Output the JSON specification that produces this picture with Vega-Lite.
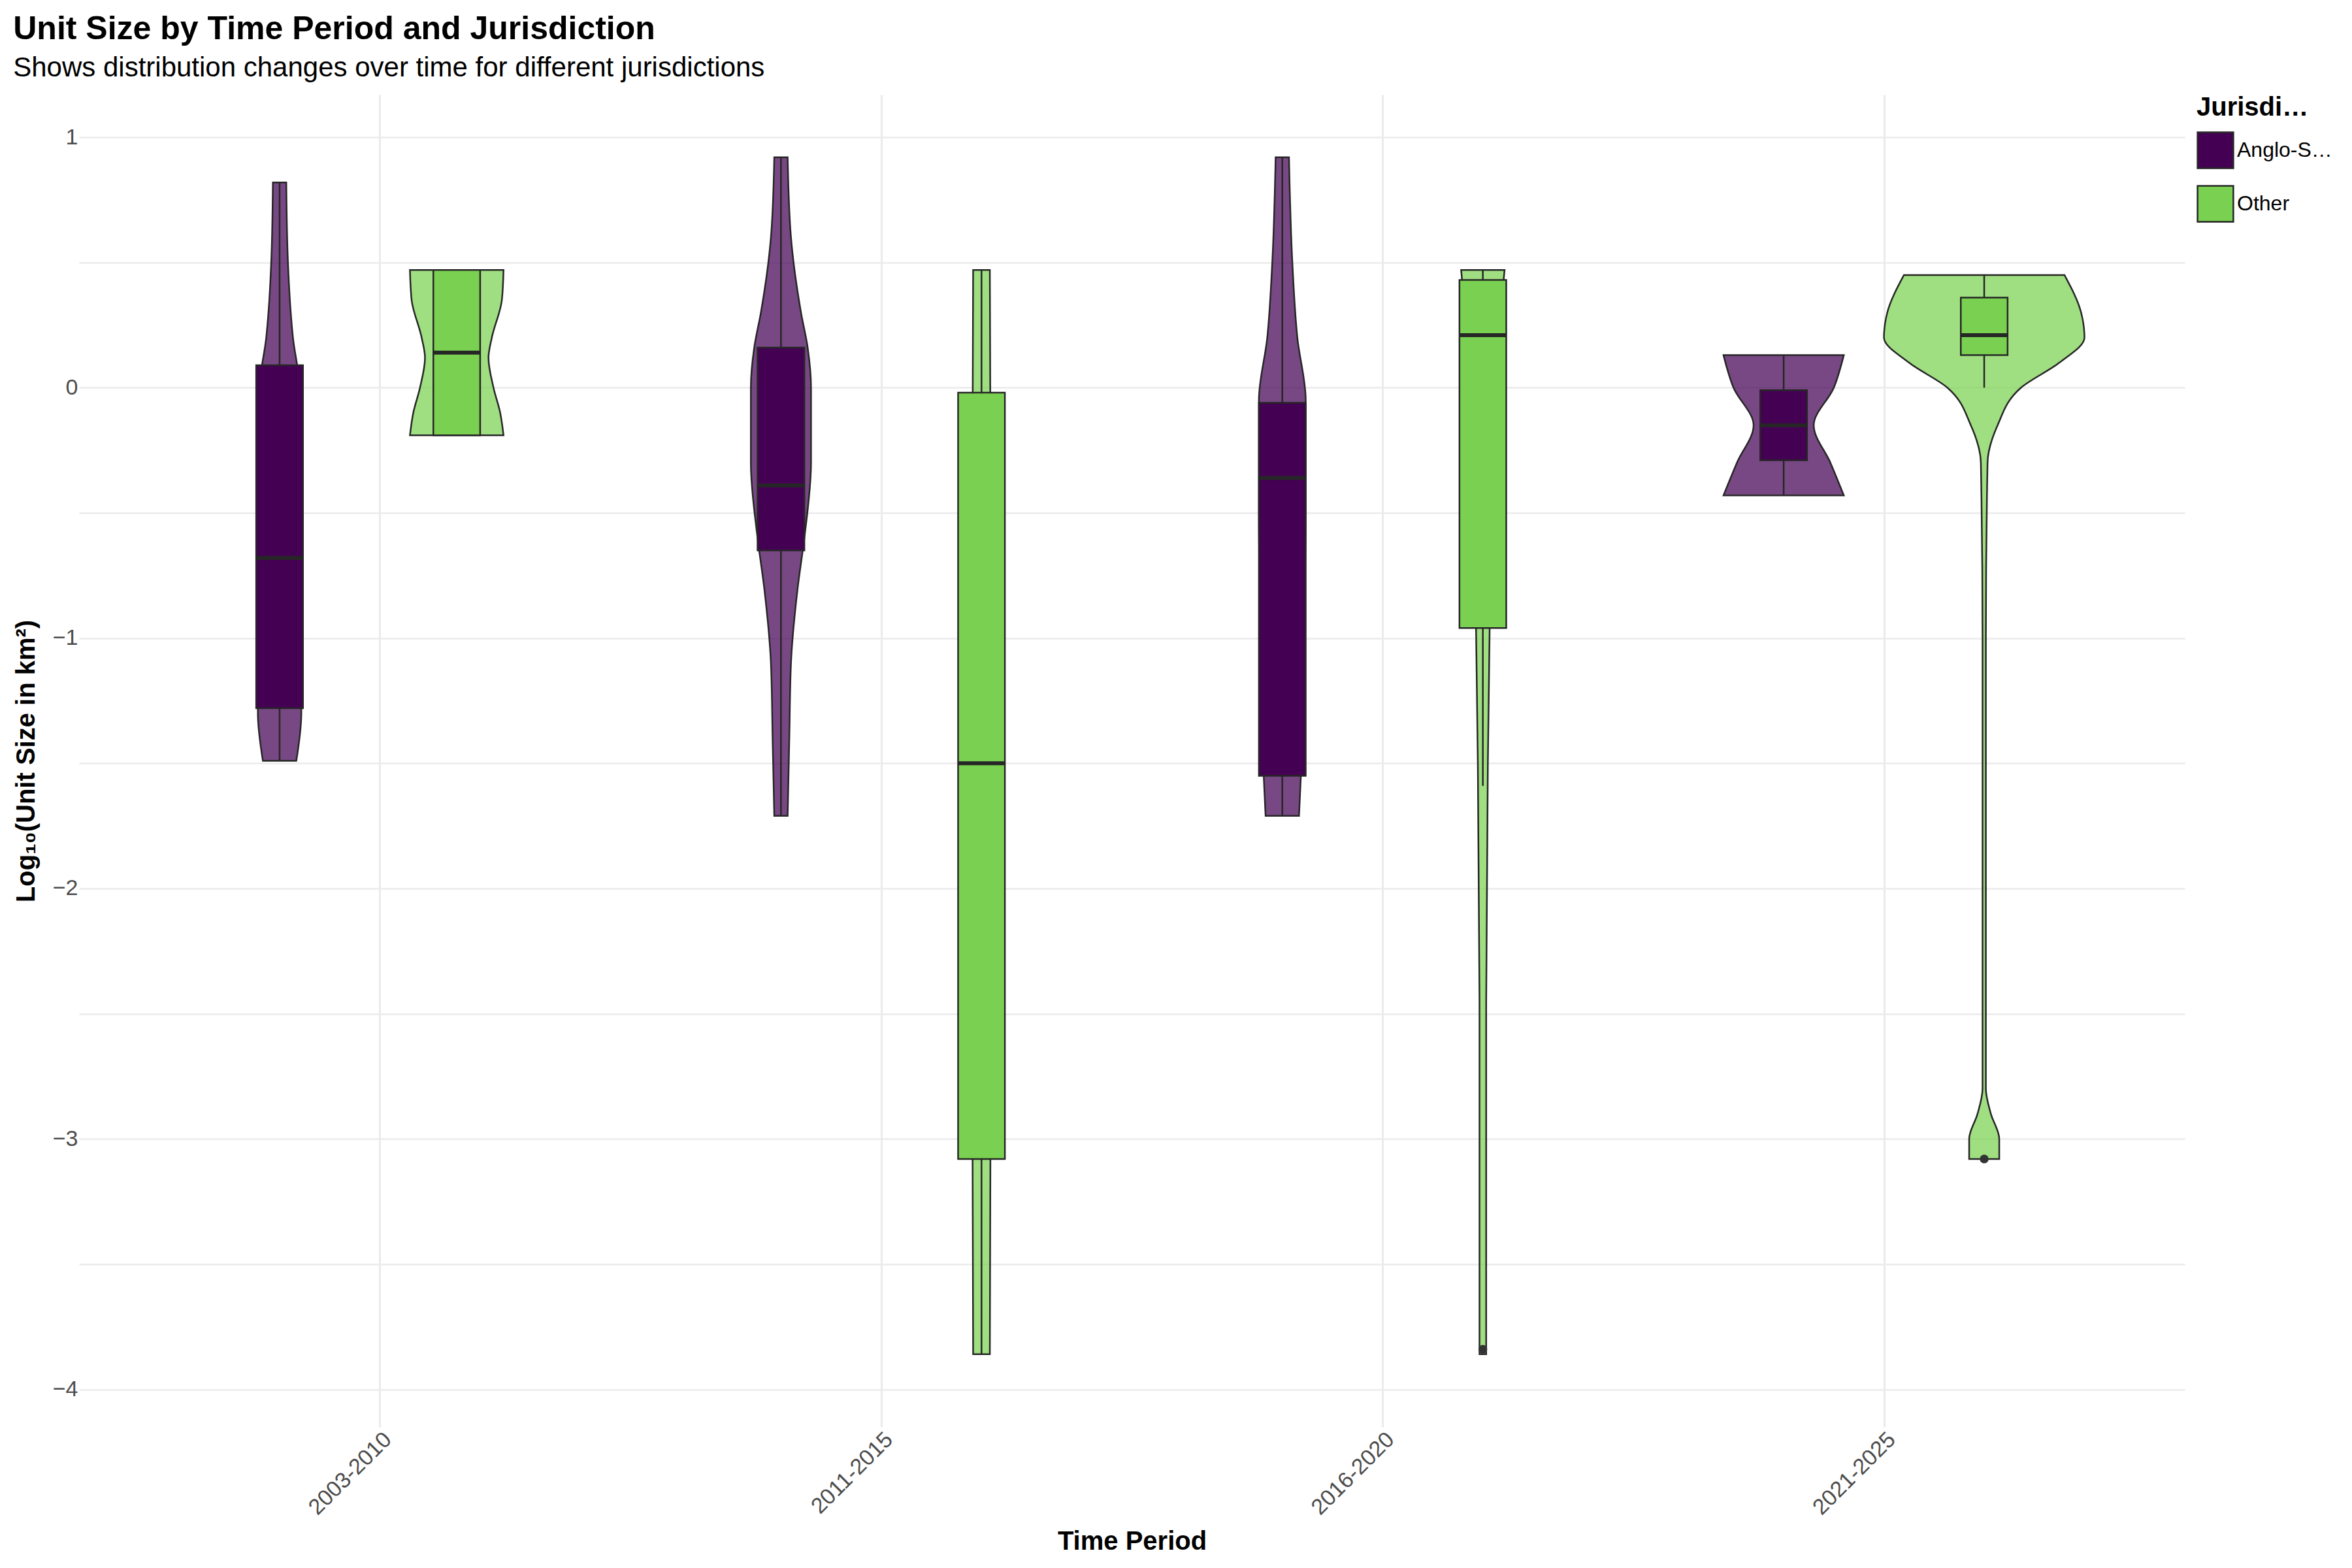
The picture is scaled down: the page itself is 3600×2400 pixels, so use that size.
{
  "$schema": "https://vega.github.io/schema/vega-lite/v6.json",
  "width": 3600,
  "height": 2400,
  "autosize": {"type": "fit", "contains": "padding"},
  "padding": {"left": 20, "top": 20, "right": 30, "bottom": 20},
  "background": "white",
  "config": {"view": {"stroke": null}, "font": "Liberation Sans"},
  "title": {
    "text": "Unit Size by Time Period and Jurisdiction",
    "subtitle": "Shows distribution changes over time for different jurisdictions",
    "anchor": "start", "fontSize": 50, "fontWeight": "bold", "subtitleFontSize": 42,
    "subtitlePadding": 14, "offset": 20, "color": "#000", "subtitleColor": "#000"
  },
  "datasets": {
    "violin": [
      {"v": "a03", "g": "Anglo-Saxon", "y": 0.82, "xl": 236, "xr": 244},
      {"v": "a03", "g": "Anglo-Saxon", "y": 0.5, "xl": 235, "xr": 245},
      {"v": "a03", "g": "Anglo-Saxon", "y": 0.2, "xl": 232, "xr": 248},
      {"v": "a03", "g": "Anglo-Saxon", "y": 0.0, "xl": 228, "xr": 252},
      {"v": "a03", "g": "Anglo-Saxon", "y": -0.5, "xl": 227, "xr": 253},
      {"v": "a03", "g": "Anglo-Saxon", "y": -1.0, "xl": 227, "xr": 253},
      {"v": "a03", "g": "Anglo-Saxon", "y": -1.3, "xl": 227, "xr": 253},
      {"v": "a03", "g": "Anglo-Saxon", "y": -1.49, "xl": 230, "xr": 250},
      {"v": "o03", "g": "Other", "y": 0.47, "xl": 318, "xr": 374},
      {"v": "o03", "g": "Other", "y": 0.35, "xl": 319, "xr": 373},
      {"v": "o03", "g": "Other", "y": 0.2, "xl": 325, "xr": 367},
      {"v": "o03", "g": "Other", "y": 0.12, "xl": 327, "xr": 365},
      {"v": "o03", "g": "Other", "y": 0.0, "xl": 324, "xr": 368},
      {"v": "o03", "g": "Other", "y": -0.1, "xl": 320, "xr": 372},
      {"v": "o03", "g": "Other", "y": -0.19, "xl": 318, "xr": 374},
      {"v": "a11", "g": "Anglo-Saxon", "y": 0.92, "xl": 536, "xr": 544},
      {"v": "a11", "g": "Anglo-Saxon", "y": 0.6, "xl": 534, "xr": 546},
      {"v": "a11", "g": "Anglo-Saxon", "y": 0.3, "xl": 528, "xr": 552},
      {"v": "a11", "g": "Anglo-Saxon", "y": 0.16, "xl": 524, "xr": 556},
      {"v": "a11", "g": "Anglo-Saxon", "y": 0.0, "xl": 522, "xr": 558},
      {"v": "a11", "g": "Anglo-Saxon", "y": -0.3, "xl": 522, "xr": 558},
      {"v": "a11", "g": "Anglo-Saxon", "y": -0.6, "xl": 526, "xr": 554},
      {"v": "a11", "g": "Anglo-Saxon", "y": -0.8, "xl": 530, "xr": 550},
      {"v": "a11", "g": "Anglo-Saxon", "y": -1.1, "xl": 534, "xr": 546},
      {"v": "a11", "g": "Anglo-Saxon", "y": -1.4, "xl": 535, "xr": 545},
      {"v": "a11", "g": "Anglo-Saxon", "y": -1.71, "xl": 536, "xr": 544},
      {"v": "o11", "g": "Other", "y": 0.47, "xl": 655, "xr": 665},
      {"v": "o11", "g": "Other", "y": -1.5, "xl": 654, "xr": 666},
      {"v": "o11", "g": "Other", "y": -3.86, "xl": 655, "xr": 665},
      {"v": "a16", "g": "Anglo-Saxon", "y": 0.92, "xl": 836, "xr": 844},
      {"v": "a16", "g": "Anglo-Saxon", "y": 0.5, "xl": 834, "xr": 846},
      {"v": "a16", "g": "Anglo-Saxon", "y": 0.2, "xl": 831, "xr": 849},
      {"v": "a16", "g": "Anglo-Saxon", "y": -0.05, "xl": 826, "xr": 854},
      {"v": "a16", "g": "Anglo-Saxon", "y": -0.5, "xl": 826, "xr": 854},
      {"v": "a16", "g": "Anglo-Saxon", "y": -1.0, "xl": 827, "xr": 853},
      {"v": "a16", "g": "Anglo-Saxon", "y": -1.4, "xl": 828, "xr": 852},
      {"v": "a16", "g": "Anglo-Saxon", "y": -1.71, "xl": 830, "xr": 850},
      {"v": "o16", "g": "Other", "y": 0.47, "xl": 947, "xr": 973},
      {"v": "o16", "g": "Other", "y": 0.4, "xl": 948, "xr": 972},
      {"v": "o16", "g": "Other", "y": 0.2, "xl": 951, "xr": 969},
      {"v": "o16", "g": "Other", "y": -0.5, "xl": 955, "xr": 965},
      {"v": "o16", "g": "Other", "y": -1.0, "xl": 956, "xr": 964},
      {"v": "o16", "g": "Other", "y": -1.5, "xl": 957, "xr": 963},
      {"v": "o16", "g": "Other", "y": -2.5, "xl": 958, "xr": 962},
      {"v": "o16", "g": "Other", "y": -3.5, "xl": 958, "xr": 962},
      {"v": "o16", "g": "Other", "y": -3.86, "xl": 958, "xr": 962},
      {"v": "a21", "g": "Anglo-Saxon", "y": 0.13, "xl": 1104, "xr": 1176},
      {"v": "a21", "g": "Anglo-Saxon", "y": 0.0, "xl": 1110, "xr": 1170},
      {"v": "a21", "g": "Anglo-Saxon", "y": -0.15, "xl": 1122, "xr": 1158},
      {"v": "a21", "g": "Anglo-Saxon", "y": -0.3, "xl": 1112, "xr": 1168},
      {"v": "a21", "g": "Anglo-Saxon", "y": -0.43, "xl": 1104, "xr": 1176},
      {"v": "o21", "g": "Other", "y": 0.45, "xl": 1212, "xr": 1308},
      {"v": "o21", "g": "Other", "y": 0.3, "xl": 1202, "xr": 1318},
      {"v": "o21", "g": "Other", "y": 0.2, "xl": 1200, "xr": 1320},
      {"v": "o21", "g": "Other", "y": 0.1, "xl": 1215, "xr": 1305},
      {"v": "o21", "g": "Other", "y": 0.0, "xl": 1238, "xr": 1282},
      {"v": "o21", "g": "Other", "y": -0.15, "xl": 1252, "xr": 1268},
      {"v": "o21", "g": "Other", "y": -0.3, "xl": 1258, "xr": 1262},
      {"v": "o21", "g": "Other", "y": -1.0, "xl": 1259, "xr": 1261},
      {"v": "o21", "g": "Other", "y": -2.8, "xl": 1259, "xr": 1261},
      {"v": "o21", "g": "Other", "y": -2.9, "xl": 1256, "xr": 1264},
      {"v": "o21", "g": "Other", "y": -3.0, "xl": 1251, "xr": 1269},
      {"v": "o21", "g": "Other", "y": -3.08, "xl": 1251, "xr": 1269}
    ],
    "box": [
      {"g": "Anglo-Saxon", "c": 240, "xl": 226, "xr": 254, "lo": -1.49, "q1": -1.28, "med": -0.68, "q3": 0.09, "hi": 0.82},
      {"g": "Other", "c": 346, "xl": 332, "xr": 360, "lo": -0.19, "q1": -0.19, "med": 0.14, "q3": 0.47, "hi": 0.47},
      {"g": "Anglo-Saxon", "c": 540, "xl": 526, "xr": 554, "lo": -1.71, "q1": -0.65, "med": -0.39, "q3": 0.16, "hi": 0.92},
      {"g": "Other", "c": 660, "xl": 646, "xr": 674, "lo": -3.86, "q1": -3.08, "med": -1.5, "q3": -0.02, "hi": 0.47},
      {"g": "Anglo-Saxon", "c": 840, "xl": 826, "xr": 854, "lo": -1.71, "q1": -1.55, "med": -0.36, "q3": -0.06, "hi": 0.92},
      {"g": "Other", "c": 960, "xl": 946, "xr": 974, "lo": -1.59, "q1": -0.96, "med": 0.21, "q3": 0.43, "hi": 0.47},
      {"g": "Anglo-Saxon", "c": 1140, "xl": 1126, "xr": 1154, "lo": -0.43, "q1": -0.29, "med": -0.15, "q3": -0.01, "hi": 0.13},
      {"g": "Other", "c": 1260, "xl": 1246, "xr": 1274, "lo": 0.0, "q1": 0.13, "med": 0.21, "q3": 0.36, "hi": 0.45}
    ],
    "outliers": [
      {"g": "Other", "c": 960, "y": -3.84},
      {"g": "Other", "c": 1260, "y": -3.08}
    ]
  },
  "layer": [
    {
      "data": {"name": "violin"},
      "mark": {"type": "area", "orient": "horizontal", "fillOpacity": 0.72, "stroke": "#262626", "strokeWidth": 2.5, "interpolate": "monotone"},
      "encoding": {
        "y": {
          "field": "y", "type": "quantitative",
          "scale": {"domain": [-4.15, 1.17], "nice": false, "zero": false},
          "axis": {
            "title": "Log₁₀(Unit Size in km²)", "titleFontSize": 40, "titleFontWeight": "bold", "titleColor": "#000", "titlePadding": 20,
            "values": [-4, -3.5, -3, -2.5, -2, -1.5, -1, -0.5, 0, 0.5, 1],
            "labelExpr": "datum.value % 1 == 0 ? format(datum.value, 'd') : ''",
            "labelFontSize": 34, "labelColor": "#4d4d4d",
            "domain": false, "ticks": false, "gridColor": "#ebebeb", "gridWidth": 2.5
          }
        },
        "x": {
          "field": "xl", "type": "quantitative",
          "scale": {"domain": [120, 1380], "nice": false, "zero": false},
          "axis": {
            "title": "Time Period", "titleFontSize": 40, "titleFontWeight": "bold", "titleColor": "#000", "titlePadding": 14,
            "values": [300, 600, 900, 1200],
            "labelExpr": "datum.value == 300 ? '2003-2010' : datum.value == 600 ? '2011-2015' : datum.value == 900 ? '2016-2020' : '2021-2025'",
            "labelAngle": -45, "labelAlign": "right", "labelBaseline": "top", "labelFontSize": 34, "labelColor": "#4d4d4d",
            "domain": false, "ticks": false, "gridColor": "#ebebeb", "gridWidth": 3
          }
        },
        "x2": {"field": "xr"},
        "detail": {"field": "v"},
        "color": {
          "field": "g", "type": "nominal",
          "scale": {"domain": ["Anglo-Saxon", "Other"], "range": ["#440154", "#7AD151"]},
          "legend": {
            "title": "Jurisdiction Type", "titleFontSize": 40, "titleFontWeight": "bold", "titleColor": "#000",
            "labelFontSize": 32, "labelColor": "#000", "symbolType": "square", "symbolSize": 3000,
            "symbolStrokeColor": "#262626", "symbolStrokeWidth": 2.5, "symbolOpacity": 0.9, "rowPadding": 16, "titlePadding": 16
          }
        }
      }
    },
    {
      "data": {"name": "box"},
      "mark": {"type": "rule", "color": "#262626", "strokeWidth": 2.5},
      "encoding": {"x": {"field": "c", "type": "quantitative"}, "y": {"field": "lo", "type": "quantitative"}, "y2": {"field": "q1"}}
    },
    {
      "data": {"name": "box"},
      "mark": {"type": "rule", "color": "#262626", "strokeWidth": 2.5},
      "encoding": {"x": {"field": "c", "type": "quantitative"}, "y": {"field": "q3", "type": "quantitative"}, "y2": {"field": "hi"}}
    },
    {
      "data": {"name": "box"},
      "mark": {"type": "rect", "stroke": "#262626", "strokeWidth": 2.5, "opacity": 1},
      "encoding": {
        "x": {"field": "xl", "type": "quantitative"},
        "x2": {"field": "xr"},
        "y": {"field": "q1", "type": "quantitative"},
        "y2": {"field": "q3"},
        "color": {"field": "g", "type": "nominal"}
      }
    },
    {
      "data": {"name": "box"},
      "mark": {"type": "rule", "color": "#262626", "strokeWidth": 6},
      "encoding": {"x": {"field": "xl", "type": "quantitative"}, "x2": {"field": "xr"}, "y": {"field": "med", "type": "quantitative"}}
    },
    {
      "data": {"name": "outliers"},
      "mark": {"type": "circle", "color": "#333333", "size": 180, "opacity": 1},
      "encoding": {"x": {"field": "c", "type": "quantitative"}, "y": {"field": "y", "type": "quantitative"}}
    }
  ]
}
